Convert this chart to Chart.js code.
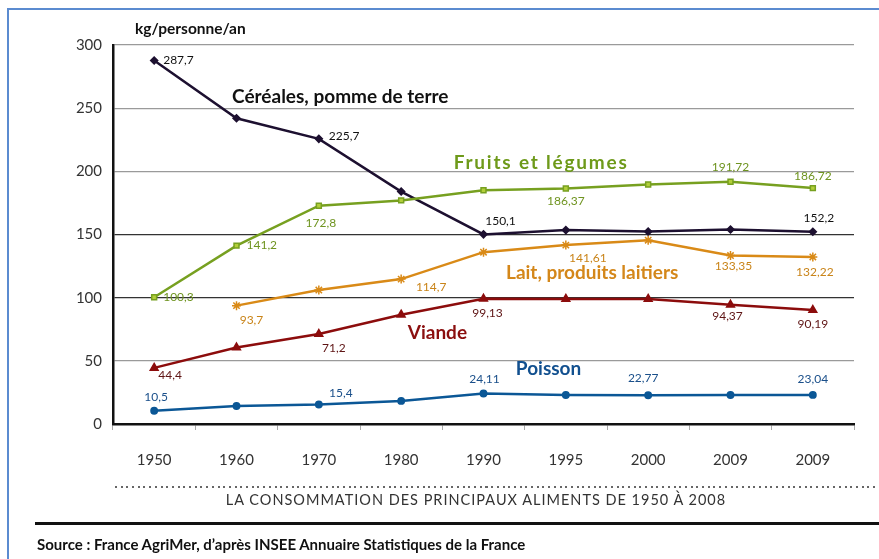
<!DOCTYPE html>
<html>
<head>
<meta charset="utf-8">
<script src="https://cdn.jsdelivr.net/npm/chart.js@4"></script>
<style>
  html, body { margin: 0; padding: 0; background: #fff; }
  body { width: 879px; height: 559px; position: relative; overflow: hidden; font-family: Lato, "Open Sans", sans-serif; }
  #frame { position: absolute; left: 7px; top: 8px; width: 900px; height: 600px; border-left: 2px solid #5b8bd0; border-top: 2px solid #5b8bd0; }
  #c { position: absolute; left: 0; top: 0; }
  #unit { position: absolute; left: 135px; top: 19px; font-weight: 700; font-size: 15.5px; color: #111; }
  #dots { position: absolute; left: 115px; top: 486px; width: 770px; height: 2px;
          background: repeating-linear-gradient(to right, #666 0 2px, transparent 2px 5.7px); }
  #caption { position: absolute; left: 0; width: 952px; text-align: center; top: 491px; font-size: 14.5px; color: #333; letter-spacing: 1px; }
  #rule { position: absolute; left: 35px; top: 522px; width: 860px; height: 3px; background: #111; }
  #source { position: absolute; left: 37px; top: 535px; font-size: 15px; font-weight: 700; color: #111; letter-spacing: 0; }
</style>
</head>
<body>
<div id="frame"></div>
<canvas id="c" width="879" height="559"></canvas>
<div id="unit">kg/personne/an</div>
<div id="dots"></div>
<div id="caption">LA CONSOMMATION DES PRINCIPAUX ALIMENTS DE 1950 À 2008</div>
<div id="rule"></div>
<div id="source">Source : France AgriMer, d’après INSEE Annuaire Statistiques de la France</div>
<script>
// ---- data ----
const categories = ['1950', '1960', '1970', '1980', '1990', '1995', '2000', '2009', '2009'];
const yTicks = [0, 50, 100, 150, 200, 250, 300];
const cereales = [287.7, 242, 225.7, 184, 150.1, 153.5, 152.3, 154, 152.2];
const fruits   = [100.3, 141.2, 172.8, 177, 185, 186.37, 189.5, 191.72, 186.72];
const lait     = [null, 93.7, 106, 114.7, 136, 141.61, 145.5, 133.35, 132.22];
const viande   = [44.4, 60.5, 71.2, 86.5, 99.13, 99, 99, 94.37, 90.19];
const poisson  = [10.5, 14.3, 15.4, 18.3, 24.11, 23, 22.77, 23, 23.04];
const seriesNames = ['Céréales, pomme de terre', 'Fruits et légumes', 'Lait, produits laitiers', 'Viande', 'Poisson'];
const seriesData = [cereales, fruits, lait, viande, poisson];

// value labels: [series, point index, dx, dy, align]
const valueLabels = [
  [0, 0, 9, 0, 'left'], [0, 2, 10, -3, 'left'], [0, 4, 17, -13, 'center'], [0, 8, 6, -14, 'center'],
  [1, 0, 9, 0, 'left'], [1, 1, 10, 0, 'left'], [1, 2, 2, 17, 'center'], [1, 5, 0, 13, 'center'], [1, 7, 0, -15, 'center'], [1, 8, 0, -12, 'center'],
  [2, 1, 15, 14, 'center'], [2, 3, 30, 8, 'center'], [2, 5, 22, 13, 'center'], [2, 7, 3, 11, 'center'], [2, 8, 2, 15, 'center'],
  [3, 0, 16, 7, 'center'], [3, 2, 15, 14, 'center'], [3, 4, 4, 14, 'center'], [3, 7, -3, 11, 'center'], [3, 8, 0, 14, 'center'],
  [4, 0, 2, -14, 'center'], [4, 2, 22, -11, 'center'], [4, 4, 1, -14, 'center'], [4, 6, -5, -17, 'center'], [4, 8, 0, -16, 'center']
];
// series name anchors in data space: [category position, value]
const nameAnchors = [[2.26, 259], [4.70, 207], [5.32, 119.5], [3.44, 72], [4.79, 43.5]];
const nameSpacing = [0, 1.8, 0, 0, 0];

const lineColors  = ['#1d1030', '#77a020', '#d98a17', '#8c0c0c', '#0b5796'];
const labelColors = ['#111111', '#6f9420', '#c98419', '#5e1414', '#1a4f8a'];
const nameColors  = ['#111111', '#6e9a1a', '#d4871a', '#8b0f0f', '#12508f'];

const fmt = v => String(v).replace('.', ',');

const labelPlugin = {
  id: 'labels',
  afterDatasetsDraw(chart) {
    const ctx = chart.ctx;
    const xs = chart.scales.x, ys = chart.scales.y;
    ctx.save();
    ctx.textBaseline = 'middle';
    ctx.font = '12px Lato, "Open Sans", sans-serif';
    valueLabels.forEach(([d, i, dx, dy, al]) => {
      const v = seriesData[d][i];
      const px = xs.getPixelForValue(i), py = ys.getPixelForValue(v);
      ctx.fillStyle = labelColors[d];
      ctx.textAlign = al;
      ctx.fillText(fmt(v), px + dx, py + dy);
    });
    ctx.font = 'bold 19px Lato, "Open Sans", sans-serif';
    ctx.textAlign = 'center';
    nameAnchors.forEach(([cx, cy], d) => {
      ctx.fillStyle = nameColors[d];
      ctx.letterSpacing = nameSpacing[d] + 'px';
      ctx.fillText(seriesNames[d], xs.getPixelForValue(cx), ys.getPixelForValue(cy));
    });
    ctx.restore();
  }
};

const mk = (d, style, radius, fill) => ({
  label: seriesNames[d], data: seriesData[d],
  borderColor: lineColors[d],
  backgroundColor: fill || lineColors[d],
  pointBorderColor: lineColors[d],
  pointBackgroundColor: fill || lineColors[d],
  pointStyle: style,
  pointRadius: radius,
  pointBorderWidth: 1.5,
  borderWidth: 2.5,
  tension: 0,
  spanGaps: false
});

new Chart(document.getElementById('c'), {
  type: 'line',
  data: {
    labels: categories,
    datasets: [
      mk(4, 'circle', 3.2),
      mk(3, 'triangle', 4.5),
      mk(2, 'star', 4.5),
      mk(1, 'rect', 3.5, '#b2cf3a'),
      mk(0, 'rectRot', 3.5)
    ]
  },
  options: {
    responsive: false,
    devicePixelRatio: 1,
    animation: false,
    layout: { padding: { left: 0, right: 25, top: 45, bottom: 0 } },
    plugins: { legend: { display: false }, tooltip: { enabled: false } },
    scales: {
      x: {
        type: 'category',
        offset: true,
        afterFit(s) { s.height = 135; },
        border: { display: true, color: '#111', width: 2.5 },
        grid: { drawOnChartArea: false, drawTicks: true, tickLength: 6, color: '#aaa', offset: true },
        ticks: { color: '#333', font: { family: 'Lato, "Open Sans", sans-serif', size: 15 }, padding: 21, autoSkip: false, maxRotation: 0 }
      },
      y: {
        min: 0, max: 300,
        afterFit(s) { s.width = 113; },
        afterBuildTicks(s) { s.ticks = yTicks.map(v => ({ value: v })); },
        border: { display: true, color: '#111', width: 2.5 },
        grid: {
          drawTicks: false,
          lineWidth: 1.3,
          color: c => (c.tick && (c.tick.value === 150 || c.tick.value === 100)) ? '#333' : '#9a9a9a'
        },
        ticks: { color: '#333', font: { family: 'Lato, "Open Sans", sans-serif', size: 15 }, padding: 11 }
      }
    }
  },
  plugins: [labelPlugin]
});
</script>
</body>
</html>
